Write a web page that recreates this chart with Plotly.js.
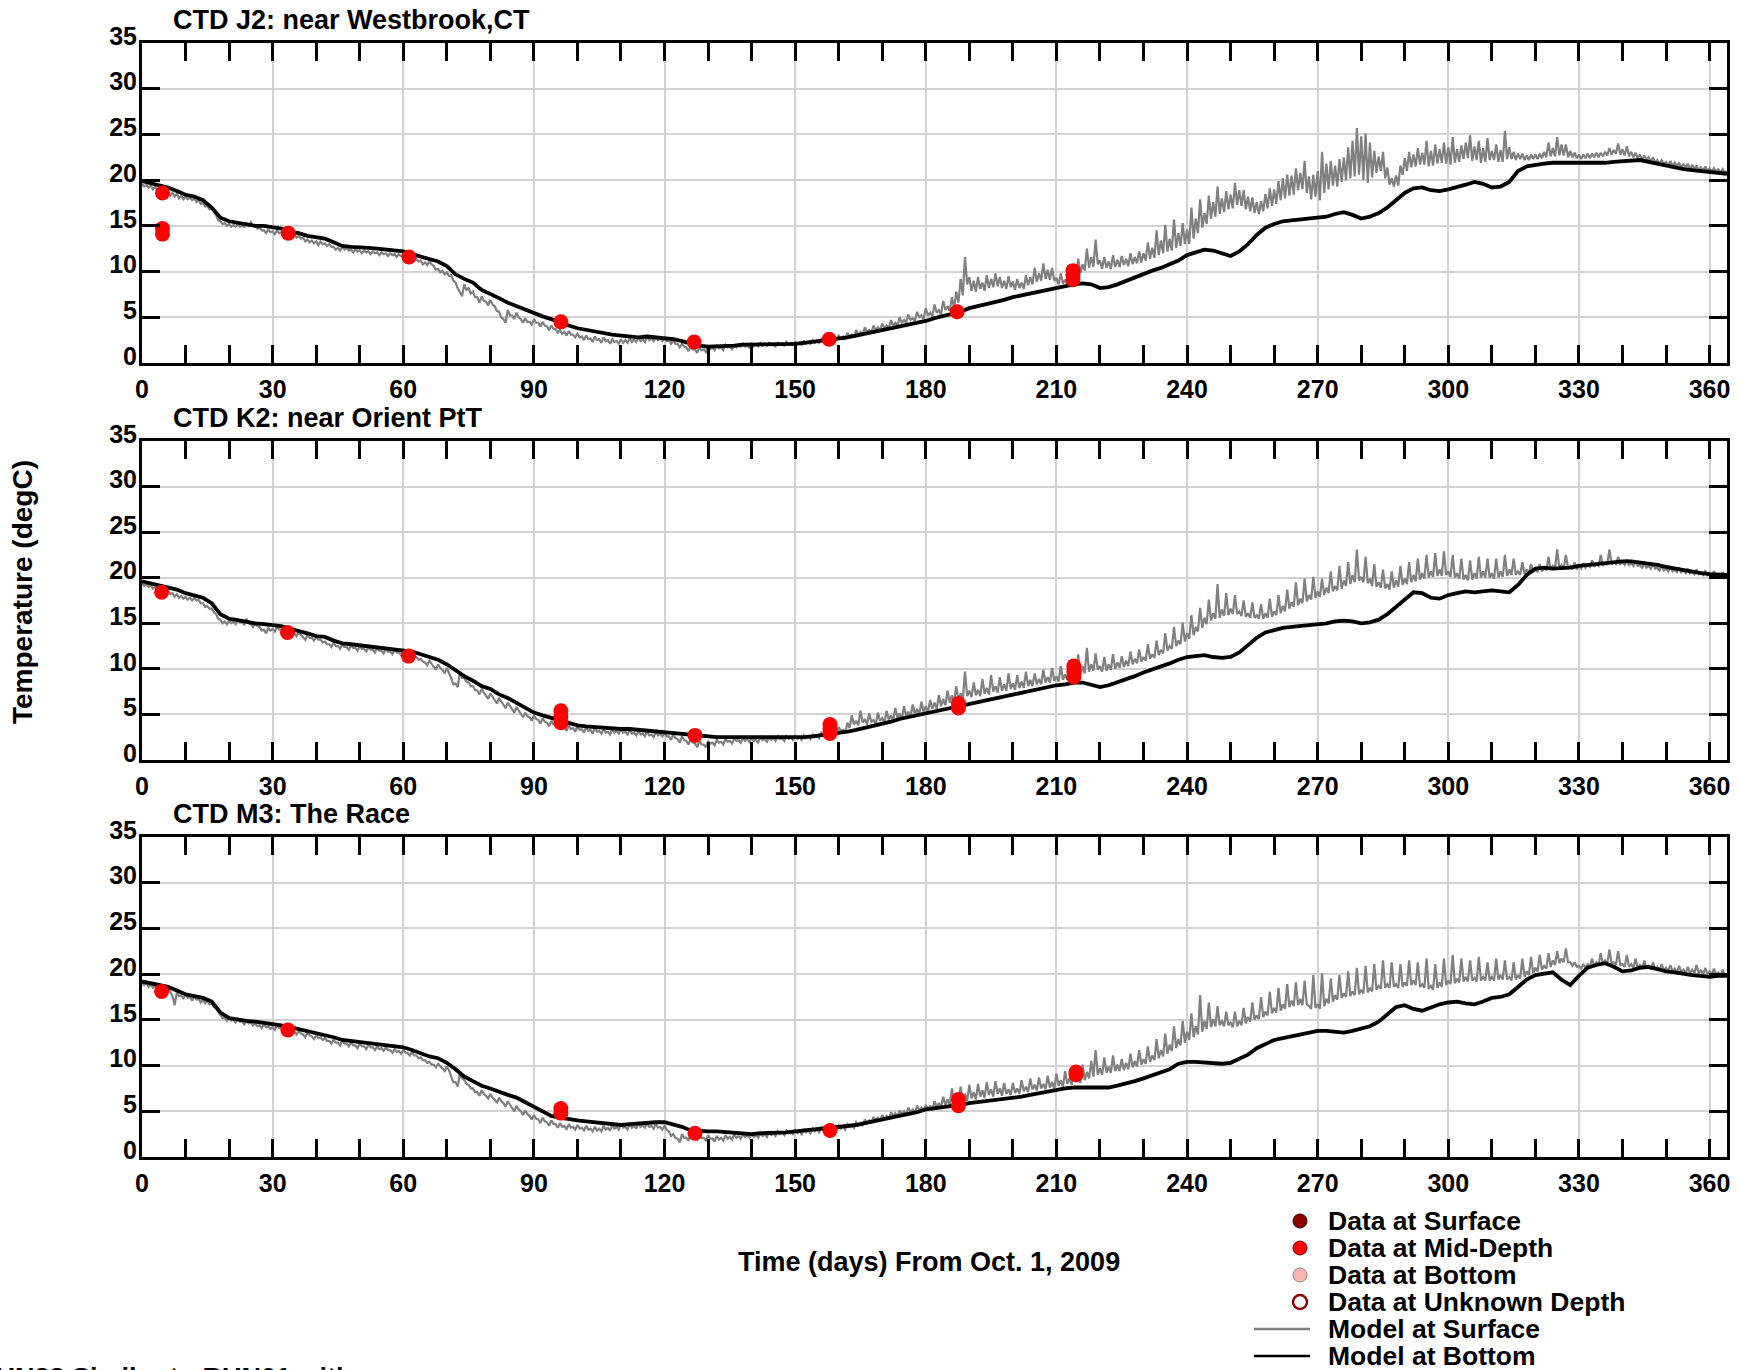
<!DOCTYPE html>
<html>
<head>
<meta charset="utf-8">
<script src="https://cdn.plot.ly/plotly-3.0.1.min.js"></script>
<style>
  html, body { margin: 0; padding: 0; background: #fff; }
  #chart { width: 1741px; height: 1370px; }
</style>
</head>
<body>
<div id="chart"></div>
<script>
// ---------------- DATA ----------------
const stationTitles = ["CTD J2: near Westbrook,CT", "CTD K2: near Orient PtT", "CTD M3: The Race"];
const xTitle = "Time (days) From Oct. 1, 2009";
const yTitle = "Temperature (degC)";
const footText = "RUN88 Similar to RUN01 with ...";

// Model at Surface: one value every half day, starting at day 0
const j2Surface = [
19.6,19.3,19.5,19.2,19.4,19.0,19.3,18.9,19.1,18.6,18.9,18.4,18.8,18.3,18.6,18.2,18.5,18.0,18.3,17.9,
18.2,17.9,18.1,17.8,18.0,17.6,17.8,17.4,17.5,17.1,17.2,16.8,16.9,16.5,16.2,15.6,15.5,15.2,15.3,15.0,
15.2,14.9,15.1,14.9,15.2,14.9,15.0,14.9,15.3,15.0,15.4,15.0,15.0,14.7,14.8,14.5,14.5,14.2,14.6,14.3,
14.4,14.1,14.5,14.2,14.3,14.0,14.2,13.9,14.3,14.0,14.0,13.7,13.9,13.6,13.7,13.3,13.5,13.2,13.4,13.1,
13.3,12.9,13.3,13.0,13.1,12.8,13.0,12.7,12.7,12.4,12.6,12.3,12.7,12.4,12.6,12.3,12.4,12.1,12.4,12.2,
12.3,12.0,12.3,12.1,12.2,11.9,12.2,12.0,12.1,11.8,12.1,11.9,12.0,11.7,12.0,11.8,11.9,11.6,11.9,11.7,
11.8,11.5,11.8,11.6,11.5,11.2,11.4,11.1,11.2,10.8,11.0,10.7,11.1,10.8,10.6,10.2,10.3,9.9,10.1,9.7,
9.9,9.5,9.6,9.0,8.8,8.2,7.8,7.3,8.6,8.0,8.2,7.6,7.8,7.2,7.2,6.6,7.3,6.8,6.7,6.3,
6.9,6.4,6.2,5.7,5.6,5.0,4.8,4.4,5.8,5.2,5.2,4.8,5.5,5.0,4.8,4.4,4.9,4.5,4.5,4.2,
4.8,4.4,4.4,4.0,4.5,4.1,4.0,3.6,4.1,3.7,3.7,3.3,3.6,3.2,3.4,3.0,3.5,3.1,3.1,2.8,
3.2,2.8,2.9,2.5,3.0,2.6,2.7,2.3,2.9,2.5,2.6,2.2,2.8,2.4,2.5,2.1,2.6,2.3,2.4,2.1,
2.6,2.2,2.5,2.2,2.7,2.3,2.6,2.3,2.8,2.4,2.6,2.3,2.9,2.5,2.7,2.4,2.8,2.5,2.7,2.4,
2.7,2.4,2.5,2.1,2.5,2.1,2.1,1.7,2.1,1.8,1.7,1.3,1.8,1.5,1.5,1.1,1.7,1.4,1.5,1.2,
1.8,1.5,1.7,1.4,1.9,1.6,1.7,1.4,2.0,1.7,1.8,1.5,1.9,1.7,2.0,1.8,2.1,1.8,1.9,1.7,
2.1,1.8,2.0,1.8,2.2,1.9,2.1,1.9,2.2,2.0,2.0,1.8,2.2,2.0,2.1,1.9,2.3,2.0,2.2,2.0,
2.3,2.1,2.2,2.0,2.4,2.1,2.3,2.1,2.5,2.2,2.4,2.2,2.6,2.3,2.5,2.3,2.7,2.5,2.8,2.6,
3.0,2.7,2.9,2.6,3.3,2.9,3.1,2.8,3.6,3.1,3.4,3.1,3.9,3.4,3.6,3.3,4.1,3.6,3.9,3.6,
4.3,3.8,4.1,3.8,4.7,4.1,4.4,4.1,5.0,4.4,4.7,4.4,5.3,4.7,4.9,4.6,5.6,5.0,5.2,4.8,
6.0,5.2,5.5,5.1,6.4,5.5,5.8,5.3,6.8,5.8,6.2,5.7,7.2,6.0,7.8,6.6,9.2,7.4,11.6,8.6,
9.4,7.9,9.0,7.8,9.4,8.1,8.8,7.9,9.6,8.2,9.2,8.3,9.8,8.4,9.4,8.2,9.0,8.1,9.5,8.3,
8.9,8.0,9.2,8.2,8.8,8.1,9.6,8.5,9.4,8.6,10.4,8.9,9.8,9.0,10.9,9.2,10.2,9.1,10.4,9.0,
9.3,8.6,9.8,8.7,9.1,8.6,10.0,9.0,10.6,9.4,11.4,9.8,10.8,10.1,12.5,10.4,11.6,10.5,13.5,10.8,
11.2,10.3,11.6,10.4,11.1,10.3,11.8,10.5,11.3,10.5,11.7,10.7,11.4,10.6,12.0,10.8,11.6,10.9,12.2,11.0,
12.0,11.2,13.2,11.4,12.6,11.5,14.5,11.8,13.4,12.0,15.1,12.2,13.6,12.3,15.7,12.6,14.2,12.8,15.3,13.0,
14.6,13.0,17.0,13.6,15.8,14.2,17.9,14.8,16.4,15.2,18.3,15.8,17.6,16.0,19.3,16.3,18.0,16.5,18.8,16.8,
18.4,16.9,19.7,17.3,18.9,17.2,18.9,16.8,18.2,16.6,18.1,16.4,17.6,16.3,17.7,16.6,18.5,16.9,19.1,17.2,
19.0,17.4,19.9,17.8,20.2,18.0,20.6,18.3,20.5,18.4,21.3,18.9,20.8,19.0,22.1,18.6,20.4,17.9,20.6,18.2,
21.0,17.8,23.1,18.6,21.8,19.0,22.1,19.4,21.6,19.3,22.3,19.8,22.5,20.0,23.6,20.2,24.3,20.4,25.7,20.6,
24.8,20.0,25.1,19.7,24.1,20.3,23.2,20.8,22.6,21.0,23.1,20.2,21.4,19.5,20.2,19.3,20.5,19.4,21.6,20.6,
22.4,21.0,23.1,21.4,22.8,21.5,23.5,21.7,23.0,21.7,24.3,21.5,23.2,21.6,23.9,21.8,23.4,21.9,24.1,21.8,
23.6,21.7,24.7,21.9,23.4,22.0,23.8,22.3,24.1,22.4,24.9,22.1,23.7,22.2,24.3,21.9,23.5,22.0,24.6,22.2,
23.2,22.2,23.9,22.0,23.3,22.0,25.4,22.3,23.6,22.3,23.1,22.2,22.9,22.3,22.9,22.2,22.7,22.2,22.8,22.3,
22.8,22.3,22.9,22.4,23.1,22.5,24.1,22.6,23.5,22.6,24.7,22.7,23.9,22.7,23.9,22.5,23.2,22.5,23.0,22.4,
22.8,22.3,22.8,22.4,22.9,22.4,22.9,22.5,23.0,22.5,23.0,22.6,23.1,22.7,23.5,22.8,23.3,22.9,24.0,22.8,
23.4,22.7,23.7,22.6,23.1,22.5,23.0,22.4,22.8,22.3,22.7,22.2,22.5,22.0,22.5,21.9,22.2,21.8,22.2,21.8,
22.0,21.6,22.1,21.5,21.9,21.5,21.9,21.4,21.8,21.3,21.8,21.2,21.7,21.2,21.6,21.1,21.4,21.0,21.5,21.0,
21.3,20.9,21.3,20.9,21.2,20.8,21.2,20.8,21.0];

const k2Surface = [
19.4,19.1,19.3,19.0,19.2,18.8,19.0,18.7,18.9,18.5,18.7,18.3,18.6,18.2,18.3,17.9,18.2,17.8,18.0,17.7,
17.9,17.6,17.8,17.5,17.8,17.5,17.6,17.2,17.2,16.8,16.9,16.6,16.6,16.2,16.0,15.5,15.4,15.0,15.2,14.9,
15.3,15.0,15.2,14.9,15.4,15.1,15.1,14.8,15.5,15.0,14.9,14.6,15.0,14.7,14.6,14.2,14.3,13.9,14.5,14.2,
14.4,14.1,14.6,14.3,14.3,14.0,14.0,13.7,14.2,13.9,13.9,13.6,14.0,13.7,13.5,13.2,13.7,13.4,13.4,13.1,
13.5,13.2,13.2,12.9,13.0,12.7,12.7,12.4,12.9,12.5,12.5,12.2,12.7,12.4,12.4,12.1,12.6,12.3,12.3,12.0,
12.5,12.2,12.2,11.9,12.4,12.1,12.1,11.8,12.3,12.0,12.0,11.7,12.2,11.9,11.9,11.6,12.1,11.8,11.8,11.5,
12.0,11.7,11.6,11.3,11.8,11.4,11.3,11.0,11.1,10.8,10.7,10.4,10.9,10.6,10.3,9.9,10.5,10.1,9.9,9.5,
10.1,9.6,9.0,8.3,8.4,8.0,9.6,9.0,9.0,8.6,8.5,8.1,8.1,7.7,7.6,7.2,7.8,7.4,7.1,6.7,
7.3,6.9,6.6,6.2,6.8,6.4,6.1,5.7,6.3,5.9,5.6,5.2,5.8,5.4,5.1,4.7,5.2,4.8,4.7,4.3,
4.9,4.5,4.4,4.0,4.6,4.2,4.1,3.7,4.3,3.9,3.9,3.5,4.0,3.6,3.6,3.2,3.8,3.4,3.5,3.1,
3.7,3.3,3.4,3.0,3.6,3.2,3.3,2.9,3.5,3.1,3.2,2.9,3.4,3.0,3.1,2.8,3.4,3.0,3.2,2.9,
3.4,3.0,3.1,2.8,3.3,2.9,3.0,2.7,3.2,2.8,2.9,2.6,3.1,2.7,2.8,2.5,3.1,2.7,2.9,2.6,
3.0,2.6,2.6,2.2,2.8,2.4,2.3,1.9,2.6,2.2,2.1,1.7,2.3,1.9,1.8,1.4,2.1,1.7,1.7,1.4,
2.1,1.8,1.9,1.6,2.2,1.9,2.0,1.7,2.3,2.0,2.1,1.8,2.4,2.1,2.2,1.9,2.4,2.1,2.3,2.0,
2.4,2.1,2.2,1.9,2.5,2.2,2.3,2.0,2.5,2.2,2.4,2.1,2.6,2.3,2.4,2.1,2.6,2.3,2.5,2.2,
2.6,2.3,2.5,2.2,2.7,2.4,2.6,2.3,2.8,2.5,2.7,2.4,3.0,2.7,2.9,2.6,3.1,2.8,3.4,3.0,
3.6,3.2,3.3,3.0,4.1,3.5,4.9,3.9,4.3,3.8,5.4,4.1,4.5,3.9,5.1,4.2,4.4,3.9,5.2,4.3,
4.6,4.1,5.4,4.4,4.9,4.3,5.7,4.6,5.1,4.5,5.9,4.8,5.3,4.8,6.1,5.0,5.6,5.0,6.4,5.3,
5.9,5.2,6.6,5.6,6.3,5.6,7.1,5.9,6.7,6.0,7.6,6.3,7.1,6.4,8.1,6.6,7.3,6.6,9.7,7.0,
7.6,6.9,8.5,7.1,7.7,7.0,8.9,7.3,7.9,7.2,9.3,7.5,8.1,7.4,9.1,7.6,8.3,7.6,9.5,7.8,
8.4,7.7,9.3,7.9,8.6,7.9,9.7,8.1,8.8,8.1,9.5,8.3,8.9,8.3,9.9,8.5,9.1,8.5,10.1,8.7,
9.2,8.6,10.3,8.8,9.4,8.8,10.9,9.0,9.7,9.1,11.6,9.3,10.3,9.5,12.3,9.7,10.5,9.8,11.7,9.9,
10.3,9.7,11.3,9.8,10.5,9.9,11.6,10.0,10.7,10.1,11.4,10.2,10.9,10.3,11.9,10.5,11.1,10.6,12.1,10.8,
11.3,10.9,12.7,11.1,11.6,11.2,13.1,11.5,12.1,11.7,13.9,12.0,12.5,12.2,14.6,12.5,13.1,12.7,15.1,13.0,
13.9,13.3,15.9,13.7,14.6,14.1,16.7,14.5,15.6,14.9,17.6,15.3,16.1,15.5,19.3,15.6,16.5,15.8,18.3,15.9,
16.6,16.0,18.1,16.0,16.3,15.8,17.5,15.7,16.1,15.6,17.3,15.6,15.9,15.5,17.1,15.5,16.1,15.6,17.7,15.7,
16.3,15.9,18.1,16.1,16.9,16.3,18.7,16.6,17.3,16.8,19.5,17.0,17.7,17.2,19.9,17.4,18.1,17.6,20.1,17.8,
18.5,17.9,19.9,18.1,18.9,18.3,20.7,18.5,19.1,18.6,21.3,18.8,19.7,19.1,21.7,19.3,20.3,19.5,23.1,19.7,
20.1,19.5,22.3,19.4,19.9,19.1,21.5,19.0,19.5,18.9,20.9,18.8,19.3,18.7,20.7,18.9,19.7,19.0,21.3,19.2,
19.9,19.3,21.7,19.5,20.3,19.6,22.1,19.8,20.5,19.9,22.5,20.0,20.7,20.1,22.7,20.2,20.9,20.2,22.9,20.3,
20.7,20.1,22.5,20.0,20.5,19.9,22.1,19.8,20.3,19.7,21.9,19.8,20.5,19.9,22.3,20.0,20.7,20.0,22.1,20.0,
20.5,19.9,22.1,20.0,20.7,20.1,22.5,20.2,20.9,20.3,22.1,20.3,20.7,20.3,21.7,20.4,20.9,20.5,21.5,20.6,
21.0,20.6,21.5,20.7,21.1,20.8,22.3,20.9,21.3,21.0,23.1,21.0,21.4,21.0,22.5,21.0,21.3,20.9,21.7,20.9,
21.3,21.0,21.6,21.1,21.4,21.2,21.9,21.2,21.5,21.3,22.5,21.3,21.6,21.4,23.1,21.5,21.7,21.5,22.3,21.5,
21.7,21.4,22.0,21.4,21.6,21.3,21.8,21.3,21.4,21.1,21.6,21.1,21.3,21.0,21.5,21.0,21.1,20.8,21.3,20.8,
21.0,20.7,21.2,20.7,20.9,20.6,21.1,20.6,20.8,20.5,21.0,20.5,20.7,20.4,20.9,20.4,20.6,20.3,20.8,20.3,
20.5,20.2,20.7,20.2,20.4,20.1,20.6,20.2,20.4];

const m3Surface = [
19.1,18.8,19.0,18.6,18.9,18.5,18.7,18.3,18.6,18.2,18.4,18.0,18.5,18.1,17.6,16.6,18.0,17.6,17.7,17.3,
17.8,17.4,17.5,17.1,17.6,17.2,17.3,16.9,17.2,16.8,17.1,16.7,16.8,16.4,16.3,15.9,15.6,15.2,15.2,14.9,
15.2,14.9,15.0,14.7,15.1,14.8,14.8,14.5,14.9,14.6,14.7,14.4,14.6,14.3,14.4,14.1,14.5,14.2,14.3,14.0,
14.2,13.9,14.4,14.1,14.1,13.8,13.9,13.6,14.0,13.7,13.7,13.4,13.8,13.5,13.4,13.1,13.6,13.3,13.2,12.9,
13.3,13.0,13.1,12.8,13.0,12.7,12.7,12.4,12.8,12.5,12.5,12.2,12.7,12.4,12.4,12.1,12.5,12.2,12.2,11.9,
12.4,12.1,12.1,11.8,12.3,12.0,12.0,11.7,12.1,11.8,11.9,11.6,12.0,11.7,11.7,11.4,11.8,11.5,11.6,11.3,
11.7,11.4,11.4,11.1,11.5,11.1,11.1,10.8,10.9,10.6,10.6,10.3,10.4,10.1,10.1,9.8,10.2,9.9,9.7,9.4,
9.9,9.5,8.8,8.2,8.2,7.7,9.1,8.6,8.4,8.0,7.9,7.5,7.5,7.1,7.1,6.7,7.3,6.9,6.7,6.4,
6.9,6.5,6.3,5.9,6.5,6.1,5.9,5.5,6.1,5.7,5.4,5.0,5.6,5.2,5.0,4.6,5.1,4.7,4.5,4.1,
4.6,4.2,4.1,3.7,4.3,3.9,3.8,3.4,4.0,3.6,3.6,3.2,3.7,3.3,3.4,3.0,3.6,3.2,3.3,3.0,
3.5,3.1,3.2,2.9,3.4,3.0,3.1,2.8,3.3,2.9,3.1,2.8,3.4,3.0,3.2,2.9,3.5,3.1,3.3,3.0,
3.6,3.2,3.3,3.0,3.6,3.2,3.4,3.1,3.7,3.3,3.5,3.2,3.7,3.3,3.4,3.1,3.6,3.2,3.3,3.0,
3.4,3.0,2.8,2.3,2.5,2.1,2.0,1.6,2.5,2.1,2.1,1.8,2.6,2.2,2.2,1.9,2.5,2.1,2.1,1.8,
2.4,2.0,2.0,1.7,2.3,1.9,2.1,1.8,2.4,2.0,2.2,1.9,2.5,2.1,2.3,2.0,2.5,2.2,2.4,2.1,
2.5,2.2,2.4,2.1,2.6,2.3,2.5,2.2,2.7,2.4,2.6,2.3,2.8,2.5,2.7,2.4,2.9,2.6,2.8,2.5,
2.9,2.6,2.8,2.5,3.0,2.7,2.9,2.6,3.1,2.8,3.0,2.7,3.2,2.9,3.1,2.8,3.3,3.0,3.2,2.9,
3.4,3.1,3.3,3.0,3.6,3.3,3.5,3.2,3.8,3.5,3.7,3.4,4.1,3.7,4.0,3.7,4.4,4.0,4.3,3.9,
4.6,4.2,4.5,4.1,4.9,4.5,4.8,4.4,5.1,4.7,5.0,4.6,5.4,4.9,5.2,4.8,5.6,5.1,5.4,5.0,
5.7,5.2,5.6,5.1,6.1,5.5,5.9,5.4,6.6,5.7,6.3,5.6,7.5,6.0,6.7,5.9,7.7,6.2,6.9,6.1,
7.9,6.4,7.1,6.3,8.0,6.6,7.3,6.5,8.2,6.8,7.4,6.6,8.3,6.9,7.5,6.7,8.1,6.9,7.4,6.8,
8.1,7.0,7.5,6.9,8.4,7.2,7.7,7.1,8.6,7.4,7.9,7.3,8.7,7.5,8.0,7.4,8.9,7.6,8.2,7.5,
9.1,7.8,8.4,7.7,9.4,8.0,8.6,7.9,9.7,8.2,8.8,8.1,10.1,8.4,9.3,8.6,10.5,8.8,11.7,9.0,
9.7,9.0,10.9,9.2,9.9,9.2,11.1,9.4,10.1,9.4,10.7,9.5,10.3,9.6,11.3,9.8,10.5,9.9,11.7,10.1,
10.7,10.2,12.1,10.4,11.1,10.6,12.9,10.8,11.7,11.0,13.5,11.3,12.3,11.6,14.3,11.9,12.9,12.2,14.9,12.5,
13.7,12.8,15.7,13.1,14.3,13.4,17.7,13.7,14.9,14.0,16.9,14.2,15.1,14.3,16.5,14.4,14.9,14.3,15.9,14.4,
14.7,14.2,15.9,14.3,14.9,14.4,16.3,14.6,15.3,14.8,16.9,15.0,15.5,15.1,17.5,15.3,15.9,15.5,18.1,15.7,
16.3,15.8,18.5,16.0,16.7,16.2,18.9,16.4,17.1,16.5,19.1,16.6,17.3,16.6,19.3,16.7,16.5,16.2,19.9,16.3,
16.7,16.2,20.1,16.5,17.3,16.8,19.5,17.0,17.7,17.2,19.9,17.4,17.9,17.5,20.3,17.6,18.1,17.7,20.7,17.8,
18.3,17.9,20.9,18.0,18.5,18.1,21.1,18.3,18.7,18.4,21.5,18.5,18.9,18.5,21.3,18.6,18.9,18.5,21.1,18.6,
19.1,18.7,21.5,18.8,19.3,18.8,21.3,18.6,18.9,18.5,21.7,18.4,18.7,18.3,21.1,18.5,19.1,18.6,21.7,18.8,
19.3,18.9,22.1,19.0,19.5,19.1,21.7,19.2,19.7,19.2,21.5,19.3,19.6,19.2,21.9,19.3,19.7,19.3,21.3,19.3,
19.7,19.3,21.7,19.4,19.9,19.4,21.5,19.4,19.7,19.3,21.3,19.4,19.9,19.5,21.7,19.7,20.3,19.9,21.9,20.1,
20.7,20.3,22.1,20.5,20.9,20.6,22.3,20.8,21.5,21.0,22.5,21.2,21.7,21.3,22.8,21.3,21.3,20.9,21.3,20.8,
20.9,20.6,21.1,20.7,21.1,20.8,21.7,20.9,21.3,21.0,22.3,21.1,21.5,21.1,22.7,21.2,21.3,21.0,22.5,21.0,
21.1,20.8,22.1,20.8,21.1,20.7,21.7,20.7,21.0,20.6,21.5,20.6,20.9,20.5,21.3,20.5,20.8,20.4,21.1,20.4,
20.7,20.3,21.0,20.3,20.6,20.2,20.9,20.2,20.5,20.1,20.8,20.1,20.5,20.1,21.0,20.1,20.4,20.0,20.7,20.0,
20.3,19.9,20.6,19.9,20.2,19.8,20.5,19.8,20.1];

// Model at Bottom: one value every 2 days, starting at day 0
const j2Bottom = [
19.9,19.7,19.5,19.2,18.8,18.4,18.2,17.8,17.0,15.9,
15.5,15.3,15.2,15.0,15.0,14.9,14.7,14.3,14.2,13.9,
13.7,13.6,13.2,12.8,12.7,12.7,12.6,12.5,12.4,12.3,
12.2,11.9,11.6,11.3,11.1,10.6,9.7,9.2,8.8,8.0,
7.6,7.1,6.6,6.2,5.9,5.4,5.1,4.8,4.4,4.1,
3.8,3.6,3.4,3.3,3.1,3.0,2.9,2.8,2.9,2.8,
2.8,2.6,2.4,2.1,1.9,1.8,1.8,1.8,1.9,2.0,
2.0,2.0,2.1,2.1,2.1,2.1,2.2,2.3,2.4,2.6,
2.7,2.8,3.0,3.2,3.4,3.5,3.8,4.0,4.2,4.4,
4.6,4.9,5.1,5.3,5.6,6.0,6.2,6.4,6.6,6.9,
7.2,7.4,7.6,7.8,8.0,8.3,8.4,8.6,8.7,8.6,
8.2,8.3,8.6,9.0,9.4,9.8,10.1,10.4,10.8,11.2,
11.8,12.1,12.4,12.3,12.0,11.7,12.2,13.0,14.0,14.8,
15.2,15.5,15.6,15.7,15.8,15.9,16.0,16.3,16.5,16.2,
15.8,16.0,16.4,17.0,17.8,18.6,19.1,19.2,18.9,18.8,
19.0,19.2,19.5,19.8,19.6,19.2,19.3,19.8,21.0,21.5,
21.7,21.8,21.9,21.9,21.8,21.8,21.8,21.9,21.9,22.0,
22.1,22.2,22.2,22.0,21.8,21.5,21.4,21.2,21.1,21.0,
20.9,20.8,20.7];

const k2Bottom = [
19.6,19.4,19.2,19.0,18.7,18.3,18.1,17.8,17.2,16.0,
15.5,15.3,15.1,15.0,14.9,14.8,14.7,14.4,14.2,13.9,
13.6,13.5,13.1,12.8,12.7,12.6,12.5,12.4,12.3,12.2,
12.1,11.9,11.6,11.3,11.0,10.5,9.8,9.2,8.7,8.1,
7.8,7.2,6.8,6.3,5.8,5.2,4.9,4.6,4.3,4.0,
3.8,3.7,3.6,3.5,3.4,3.4,3.4,3.3,3.3,3.2,
3.1,3.0,2.8,2.8,2.7,2.5,2.5,2.5,2.5,2.4,
2.4,2.4,2.4,2.4,2.4,2.5,2.5,2.6,2.7,2.9,
3.0,3.1,3.3,3.5,3.8,4.0,4.2,4.5,4.7,5.0,
5.2,5.3,5.5,5.7,5.9,6.1,6.3,6.5,6.7,7.0,
7.2,7.4,7.6,7.8,8.0,8.2,8.3,8.5,8.5,8.3,
8.0,8.2,8.5,8.9,9.2,9.6,9.9,10.2,10.6,11.0,
11.3,11.4,11.5,11.3,11.2,11.3,11.8,12.6,13.4,14.0,
14.3,14.5,14.6,14.7,14.7,14.8,15.0,15.2,15.3,15.2,
15.0,15.1,15.4,16.0,16.8,17.6,18.4,18.3,17.8,17.7,
18.1,18.3,18.5,18.4,18.5,18.6,18.5,18.4,19.2,20.3,
21.0,21.1,21.0,21.0,21.1,21.3,21.4,21.5,21.6,21.6,
21.8,21.8,21.7,21.5,21.4,21.2,21.0,20.9,20.7,20.5,
20.4,20.3,20.3];

const m3Bottom = [
19.2,19.0,18.8,18.6,18.2,17.8,17.6,17.4,17.0,15.8,
15.2,15.0,14.9,14.8,14.7,14.6,14.4,14.2,14.0,13.8,
13.5,13.4,13.1,12.8,12.7,12.6,12.5,12.4,12.3,12.1,
12.0,11.7,11.3,11.0,10.8,10.3,9.6,8.8,8.3,7.8,
7.5,7.1,6.8,6.5,6.0,5.5,5.0,4.5,4.3,4.1,
4.0,3.9,3.8,3.7,3.6,3.5,3.6,3.7,3.8,3.8,
3.8,3.6,3.3,2.9,2.8,2.8,2.8,2.7,2.6,2.6,
2.5,2.6,2.6,2.7,2.7,2.8,2.9,2.9,3.0,3.1,
3.2,3.3,3.5,3.7,3.9,4.0,4.2,4.4,4.7,4.9,
5.2,5.3,5.4,5.6,5.7,5.9,6.0,6.1,6.2,6.3,
6.5,6.6,6.8,7.0,7.2,7.4,7.5,7.6,7.6,7.5,
7.5,7.6,7.8,8.0,8.3,8.6,8.9,9.2,9.6,10.2,
10.4,10.4,10.3,10.3,10.2,10.3,10.7,11.2,11.9,12.4,
12.8,13.0,13.2,13.4,13.6,13.8,13.8,13.7,13.6,13.8,
14.0,14.3,14.8,15.6,16.4,16.6,16.2,16.0,16.4,16.7,
16.9,17.0,16.8,16.7,17.0,17.4,17.5,17.8,18.6,19.4,
19.9,20.1,20.2,19.4,18.8,19.8,20.7,21.0,21.2,20.8,
20.3,20.4,20.7,20.8,20.5,20.3,20.2,20.0,19.9,19.8,
19.7,19.8,19.8];

// Data at Mid-Depth (observations)
const j2DataDays = [4.7, 4.7, 4.7, 33.6, 61.3, 96.2, 126.8, 157.8, 187.2, 213.8, 213.8, 213.8];
const j2DataTemp = [18.6, 14.7, 14.1, 14.2, 11.6, 4.5, 2.3, 2.6, 5.6, 10.1, 9.6, 9.1];
const k2DataDays = [4.5, 33.4, 61.2, 96.2, 96.2, 96.2, 127.0, 158.0, 158.0, 158.0, 187.5, 187.5, 214.0, 214.0, 214.0];
const k2DataTemp = [18.4, 14.0, 11.4, 5.4, 4.8, 4.1, 2.7, 3.9, 3.4, 2.9, 6.2, 5.7, 10.3, 9.7, 9.1];
const m3DataDays = [4.5, 33.5, 96.2, 96.2, 127.0, 158.0, 187.5, 187.5, 214.5, 214.5];
const m3DataTemp = [18.1, 13.9, 5.3, 4.8, 2.6, 2.9, 6.3, 5.6, 9.3, 9.0];

const legendLabels = ["Data at Surface", "Data at Mid-Depth", "Data at Bottom",
                      "Data at Unknown Depth", "Model at Surface", "Model at Bottom"];

// ---------------- STYLE / LAYOUT ----------------
const FONT = "Liberation Sans, Arial, Helvetica, sans-serif";
const W = 1741, H = 1370, L = 142, R = 1727;
const px2x = px => (px - L) / (R - L);
const px2y = py => 1 - py / H;
const panelPx = [[43, 363], [441, 760], [837, 1157]];
const SURF_STEP = 0.5, BOT_STEP = 2;
const GRAY = "#808080";

const surfaceSeries = [j2Surface, k2Surface, m3Surface];
const bottomSeries = [j2Bottom, k2Bottom, m3Bottom];
const dataDays = [j2DataDays, k2DataDays, m3DataDays];
const dataTemp = [j2DataTemp, k2DataTemp, m3DataTemp];

const traces = [];
const layout = {
  width: W, height: H,
  margin: {l: L, r: W - R, t: 0, b: 0, pad: 0},
  paper_bgcolor: "#fff", plot_bgcolor: "#fff",
  showlegend: false,
  font: {family: FONT, size: 25, color: "#000", weight: "bold"},
  annotations: []
};

const tickFont = {family: FONT, size: 25, color: "#000", weight: "bold"};
const titleFont = {family: FONT, size: 27, color: "#000", weight: "bold"};

for (let i = 0; i < 3; i++) {
  const n = i + 1;
  const xa = "x" + n, ya = "y" + n;
  const dom = [px2y(panelPx[i][1]), px2y(panelPx[i][0])];
  layout["xaxis" + n] = {
    anchor: ya, domain: [0, 1], range: [0, 364],
    tick0: 0, dtick: 30, ticks: "inside", ticklen: 18, tickwidth: 3, tickcolor: "#000",
    showline: true, linewidth: 3, linecolor: "#000", mirror: "ticks",
    showgrid: true, gridcolor: "#d2d2d2", gridwidth: 2, zeroline: false,
    minor: {tick0: 0, dtick: 10, ticks: "inside", ticklen: 18, tickwidth: 3, tickcolor: "#000", showgrid: false},
    tickfont: tickFont, ticklabelstandoff: 2, fixedrange: true
  };
  layout["yaxis" + n] = {
    anchor: xa, domain: dom, range: [0, 35],
    tick0: 0, dtick: 5, ticks: "inside", ticklen: 18, tickwidth: 3, tickcolor: "#000",
    showline: true, linewidth: 3, linecolor: "#000", mirror: "ticks",
    showgrid: true, gridcolor: "#d2d2d2", gridwidth: 2, zeroline: false,
    tickfont: tickFont, ticklabelshift: -7, ticklabelstandoff: -3, fixedrange: true
  };

  const s = surfaceSeries[i], b = bottomSeries[i];
  traces.push({
    type: "scatter", mode: "lines", xaxis: xa, yaxis: ya,
    x: s.map((_, k) => k * SURF_STEP), y: s,
    line: {color: GRAY, width: 2.2}, hoverinfo: "skip"
  });
  traces.push({
    type: "scatter", mode: "lines", xaxis: xa, yaxis: ya,
    x: b.map((_, k) => k * BOT_STEP), y: b,
    line: {color: "#000", width: 3.8}, hoverinfo: "skip"
  });
  traces.push({
    type: "scatter", mode: "markers", xaxis: xa, yaxis: ya,
    x: dataDays[i], y: dataTemp[i],
    marker: {color: "#ff0000", size: 15, line: {width: 0}}, hoverinfo: "skip"
  });

  layout.annotations.push({
    xref: "paper", yref: "paper", x: px2x(171), y: px2y(panelPx[i][0] - 23.5),
    xanchor: "left", yanchor: "middle", showarrow: false, text: stationTitles[i],
    font: titleFont
  });
}

// Axis titles
layout.annotations.push({
  xref: "paper", yref: "paper", x: px2x(929), y: px2y(1262),
  xanchor: "center", yanchor: "middle", showarrow: false, text: xTitle,
  font: titleFont
});
layout.annotations.push({
  xref: "paper", yref: "paper", x: px2x(22), y: px2y(592),
  xanchor: "center", yanchor: "middle", showarrow: false, text: yTitle, textangle: -90,
  font: {family: FONT, size: 28, color: "#000", weight: "bold"}
});
// footer text, cut by the bottom page edge as in the reference
layout.annotations.push({
  xref: "paper", yref: "paper", x: px2x(-26), y: px2y(1378),
  xanchor: "left", yanchor: "middle", showarrow: false, text: footText,
  font: titleFont
});

// ---------------- custom legend on a hidden axis pair ----------------
const LEG_TOP_PX = 1205, ROW0_PX = 1221, ROW_H = 27;
layout.xaxis4 = {domain: [px2x(1240), 1], range: [1240, R], visible: false, fixedrange: true, anchor: "y4"};
layout.yaxis4 = {
  domain: [0, px2y(LEG_TOP_PX)],
  range: [(H - ROW0_PX) / ROW_H, (LEG_TOP_PX - ROW0_PX) / ROW_H],
  visible: false, fixedrange: true, anchor: "x4"
};
const legMarkerX = 1300, legLineX = [1254, 1310], legTextX = 1326;
const legRows = legendLabels.map((_, k) => k);
traces.push({
  type: "scatter", mode: "markers", xaxis: "x4", yaxis: "y4",
  x: legRows.slice(0, 4).map(() => legMarkerX), y: legRows.slice(0, 4),
  marker: {
    size: 14, symbol: "circle",
    color: ["#8b0000", "#ff0000", "#ffb4b4", "rgba(255,255,255,0)"],
    line: {color: ["#2a0000", "#700000", "#8a8a8a", "#8b0000"], width: [1, 1, 1, 2.5]}
  },
  hoverinfo: "skip", cliponaxis: false
});
traces.push({
  type: "scatter", mode: "lines", xaxis: "x4", yaxis: "y4",
  x: legLineX, y: [legRows[4], legRows[4]], line: {color: GRAY, width: 2.5}, hoverinfo: "skip"
});
traces.push({
  type: "scatter", mode: "lines", xaxis: "x4", yaxis: "y4",
  x: legLineX, y: [legRows[5], legRows[5]], line: {color: "#000", width: 2.5}, hoverinfo: "skip"
});
legendLabels.forEach((lab, k) => {
  layout.annotations.push({
    xref: "x4", yref: "y4", x: legTextX, y: legRows[k], xanchor: "left", yanchor: "middle",
    showarrow: false, text: lab, font: {family: FONT, size: 26.5, color: "#000", weight: "bold"}
  });
});

Plotly.newPlot("chart", traces, layout, {displayModeBar: false, staticPlot: true});
</script>
</body>
</html>
